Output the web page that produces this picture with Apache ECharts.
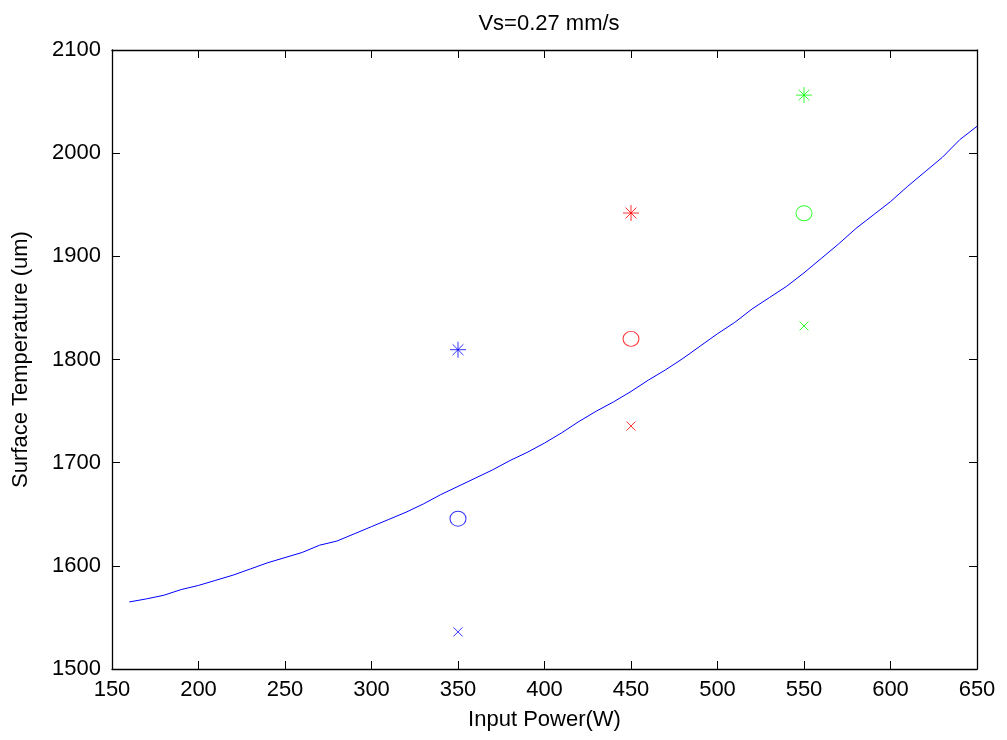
<!DOCTYPE html>
<html>
<head>
<meta charset="utf-8">
<script src="https://cdn.jsdelivr.net/npm/echarts@6/dist/echarts.min.js"></script>
<style>html,body{margin:0;padding:0;background:#fff}#c{width:1007px;height:740px}</style>
</head>
<body>
<div id="c"></div>
<script>
var curvePower = [160,170,180,190,200,210,220,230,240,250,260,270,280,290,300,310,320,330,340,350,360,370,380,390,400,410,420,430,440,450,460,470,480,490,500,510,520,530,540,550,560,570,580,590,600,610,620,630,640,650];
var curveTemp = [1565,1568,1571.5,1577,1581,1586,1591,1597,1603,1608,1613,1620,1624,1631,1638,1645,1652,1660,1669,1677,1685,1693,1702,1710,1719,1729,1740,1750,1759,1769,1780,1790,1801,1813,1825,1836,1849,1860,1871,1884,1898,1912,1927,1940,1953,1968,1982,1996,2013,2026];
var pointPower = [350, 450, 550];
var crossTemp = [1536, 1735.5, 1832.5];
var circleTemp = [1645.7, 1820, 1941.7];
var starTemp = [1809.5, 1942, 2056.3];
var pointColors = ['#0000ff', '#ff0000', '#00ff00'];

var FONT = 'Liberation Sans';
var FS = 22;
var crossPath = 'path://M0 0L10 10M10 0L0 10';
var starPath = 'path://M5 0L5 10M0 5L10 5M1.6 1.6L8.4 8.4M8.4 1.6L1.6 8.4';

function pts(ys) {
  return pointPower.map(function (x, i) {
    return { value: [x, ys[i]], itemStyle: { color: 'none', borderColor: pointColors[i], borderWidth: 1 } };
  });
}
function plain(v) { return String(v); }

var chart = echarts.init(document.getElementById('c'), null, { renderer: 'canvas' });
var axisCommon = {
  axisLine: { show: true, lineStyle: { color: '#000', width: 1.3 } },
  axisTick: { show: true, inside: true, length: 8, lineStyle: { color: '#000' } },
  splitLine: { show: false }
};
chart.setOption({
  animation: false,
  backgroundColor: '#fff',
  title: {
    text: 'Vs=0.27 mm/s', left: 544, top: 8, textAlign: 'center',
    textStyle: { fontFamily: FONT, fontSize: FS, fontWeight: 'normal', color: '#000' }
  },
  grid: { left: 112, right: 30, top: 50, bottom: 71 },
  xAxis: [
    Object.assign({
      type: 'value', min: 150, max: 650, interval: 50, position: 'bottom',
      name: 'Input Power(W)', nameLocation: 'middle', nameGap: 40,
      nameTextStyle: { fontFamily: FONT, fontSize: FS, color: '#000' },
      axisLabel: { fontFamily: FONT, fontSize: FS, color: '#000', margin: 10, formatter: plain }
    }, axisCommon),
    Object.assign({
      type: 'value', min: 150, max: 650, interval: 50, position: 'top',
      axisLabel: { show: false }
    }, axisCommon)
  ],
  yAxis: [
    Object.assign({
      type: 'value', min: 1500, max: 2100, interval: 100, position: 'left',
      name: 'Surface Temperature (um)', nameLocation: 'middle', nameGap: 80,
      nameTextStyle: { fontFamily: FONT, fontSize: FS, color: '#000' },
      axisLabel: { fontFamily: FONT, fontSize: FS, color: '#000', margin: 11, formatter: plain }
    }, axisCommon),
    Object.assign({
      type: 'value', min: 1500, max: 2100, interval: 100, position: 'right',
      axisLabel: { show: false }
    }, axisCommon)
  ],
  series: [
    {
      type: 'line', data: curvePower.map(function (x, i) { return [x, curveTemp[i]]; }),
      showSymbol: false, symbol: 'none', lineStyle: { color: '#0000ff', width: 1 }, z: 2
    },
    { type: 'scatter', data: pts(crossTemp), symbol: crossPath, symbolSize: 9, z: 3 },
    { type: 'scatter', data: pts(circleTemp), symbol: 'circle', symbolSize: [16, 15], z: 3 },
    { type: 'scatter', data: pts(starTemp), symbol: starPath, symbolSize: 16, z: 3 }
  ]
});
</script>
</body>
</html>
